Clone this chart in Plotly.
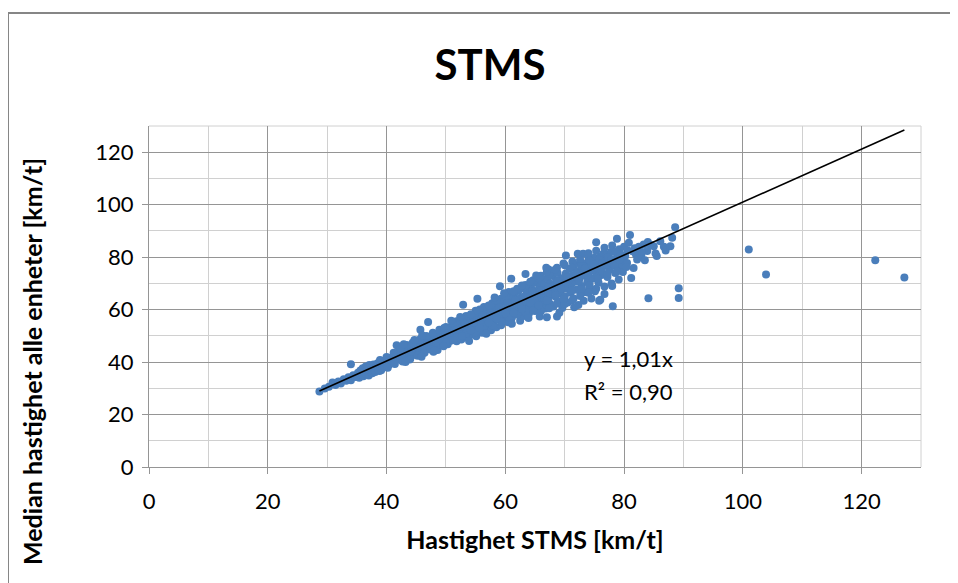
import plotly.graph_objects as go

# ---- data ----
x_low = [28.7, 29.6, 30.3, 30.9, 31.4, 31.9, 32.3, 32.8, 33.2, 33.6, 34.0, 34.4, 34.8, 34.0]
y_low = [28.8, 29.9, 30.6, 32.2, 31.3, 32.6, 31.8, 33.5, 32.9, 34.2, 33.1, 35.0, 34.3, 39.2]

x_b = [35.2, 35.4, 35.6, 35.8, 36.0, 36.1, 36.3, 36.5, 36.6, 36.8, 37.0, 37.1, 37.3, 37.5, 37.6, 37.8, 38.0, 38.1,
       38.3, 38.5, 38.6, 38.8, 39.0, 39.2, 39.3, 39.5, 39.7, 39.9, 40.1, 40.3, 40.4, 40.6, 40.8, 41.0, 41.1, 41.3]
y_b = [35.9, 34.0, 36.8, 35.1, 37.6, 34.6, 36.2, 38.3, 35.3, 37.1, 34.9, 38.9, 36.5, 37.8, 35.7, 39.1, 37.0, 36.2,
       38.4, 39.6, 37.3, 36.6, 38.9, 40.0, 37.8, 39.2, 38.3, 40.6, 39.4, 41.1, 38.9, 40.3, 41.6, 40.0, 42.2, 40.9]

x_c = [41.5, 41.7, 41.8, 42.0, 42.1, 42.3, 42.5, 42.6, 42.8, 43.0, 43.1, 43.3, 43.5, 43.6, 43.8, 44.0, 44.1, 44.3,
       44.5, 44.6, 44.8, 45.0, 45.1, 45.3, 45.5, 45.7, 45.8, 46.0, 46.1, 46.3, 46.5, 46.6, 46.8, 47.0, 47.0, 47.1,
       47.3, 47.5, 47.6, 47.8, 47.9, 48.0, 48.2, 48.3, 48.5, 48.7, 48.8, 49.0, 49.1, 49.3, 49.5, 49.6, 49.8, 50.0,
       50.1, 50.3]
y_c = [43.0, 46.4, 41.6, 42.5, 44.1, 40.9, 43.3, 45.0, 42.0, 44.2, 41.5, 45.5, 43.0, 44.7, 42.3, 41.3, 45.9, 43.7,
       46.3, 42.8, 44.9, 47.0, 43.6, 45.8, 44.2, 52.3, 46.9, 43.2, 47.8, 45.3, 48.2, 44.6, 46.7, 55.3, 49.0, 45.2,
       47.6, 44.8, 49.6, 46.3, 43.9, 48.4, 50.2, 46.8, 48.9, 45.9, 50.6, 47.5, 49.3, 51.2, 47.0, 50.0, 48.3, 51.6,
       49.0, 46.8]

x_d = [50.5, 50.6, 50.8, 51.0, 51.1, 51.3, 51.5, 51.6, 51.8, 52.0, 52.1, 52.3, 52.5, 52.6, 52.8, 52.9, 53.0, 53.1,
       53.3, 53.5, 53.6, 53.8, 54.0, 54.1, 54.3, 54.5, 54.6, 54.8, 55.0, 55.1, 55.3, 55.3, 55.5, 55.6, 55.8, 56.0,
       56.1, 56.3, 56.5, 56.6, 56.8, 57.0, 57.1, 57.3, 57.5, 57.6, 57.8, 58.0, 58.1, 58.3, 58.5, 58.6, 58.8, 59.0,
       59.1, 59.1, 59.3, 59.5, 59.6, 59.7, 59.9]
y_d = [52.5, 50.2, 48.1, 53.4, 51.0, 49.2, 54.0, 51.8, 47.9, 53.0, 55.0, 50.4, 52.2, 48.6, 54.3, 61.9, 56.0, 51.3,
       49.5, 53.6, 55.6, 52.0, 57.0, 50.3, 54.5, 56.3, 51.6, 53.2, 57.6, 49.8, 64.1, 55.3, 52.7, 58.4, 54.3, 56.6,
       51.2, 59.0, 55.0, 57.6, 52.6, 59.8, 54.1, 56.2, 60.6, 52.1, 58.1, 55.2, 61.3, 57.0, 53.3, 59.7, 62.1, 56.2,
       68.9, 60.4, 54.0, 58.6, 62.9, 56.8, 60.0]

x_e = [60.1, 60.2, 60.4, 60.5, 60.7, 60.8, 61.0, 61.0, 61.1, 61.3, 61.5, 61.6, 61.8, 62.0, 62.1, 62.3, 62.5, 62.5,
       62.6, 62.8, 63.0, 63.1, 63.3, 63.4, 63.5, 63.6, 63.8, 64.0, 64.1, 64.2, 64.3, 64.5, 64.6, 64.8, 65.0, 65.1,
       65.3, 65.5, 65.6, 65.8, 65.8, 66.0, 66.1, 66.3, 66.5, 66.6, 66.8, 67.0, 67.0, 67.1, 67.3, 67.3, 67.5, 67.6,
       67.8, 68.0, 68.1, 68.3, 68.5, 68.7, 68.6, 68.8, 69.0, 69.1, 69.3, 69.5, 69.6, 69.8, 70.0]
y_e = [64.0, 57.8, 61.2, 55.2, 63.1, 59.5, 71.8, 65.5, 56.8, 62.4, 60.3, 66.4, 58.1, 63.8, 61.0, 67.3, 55.8, 59.4,
       64.6, 62.0, 68.2, 57.6, 65.0, 73.6, 60.8, 66.9, 63.1, 58.6, 69.0, 60.0, 64.2, 61.6, 67.6, 65.3, 59.5, 70.2,
       62.8, 66.4, 64.0, 57.4, 68.6, 61.3, 71.0, 65.6, 63.0, 69.4, 60.4, 57.1, 67.1, 72.0, 75.3, 64.4, 62.2, 69.9,
       66.0, 72.8, 61.2, 67.8, 64.9, 57.4, 71.0, 74.0, 63.0, 68.8, 66.2, 72.0, 60.6, 70.0, 65.0]

x_f = [70.2, 70.2, 70.3, 70.5, 70.6, 70.8, 71.0, 71.1, 71.3, 71.5, 71.6, 71.8, 72.0, 72.2, 72.1, 72.3, 72.5, 72.6,
       72.8, 73.0, 73.1, 73.2, 73.3, 73.5, 73.6, 73.8, 74.0, 74.1, 74.3, 74.5, 74.5, 74.7, 75.0, 75.1, 75.3, 75.3,
       75.5, 75.8, 75.7, 76.0, 76.0, 76.2, 76.5, 76.4, 76.7, 77.0, 77.1, 77.2, 77.5, 77.8, 77.9, 78.1, 78.2, 78.5,
       78.8, 78.8, 79.1, 79.2, 79.5, 79.8, 80.0]
y_f = [80.6, 73.8, 68.0, 62.7, 71.3, 75.6, 66.4, 69.6, 73.0, 64.2, 77.0, 70.6, 67.6, 81.3, 74.6, 61.8, 72.0, 78.4,
       69.0, 75.8, 81.3, 63.4, 66.6, 72.8, 77.5, 70.4, 79.2, 68.2, 74.6, 64.2, 76.6, 71.8, 79.8, 67.0, 85.7, 74.0,
       77.8, 63.4, 70.2, 63.8, 80.2, 73.2, 81.3, 76.4, 68.8, 78.6, 81.0, 72.4, 75.2, 82.0, 70.0, 61.3, 77.4, 74.0,
       87.0, 80.0, 71.5, 83.0, 76.6, 79.2, 84.0]

x_g = [80.2, 80.5, 80.8, 81.0, 81.2, 81.5, 81.6, 82.0, 82.2, 82.5, 82.9, 83.3, 83.5, 83.9, 84.1, 84.5, 85.0, 85.3,
       85.5, 86.1, 86.7, 87.0, 87.8, 88.1, 88.6, 89.2, 89.2,
       80.6, 81.8, 83.0, 84.0, 79.8, 80.4]
y_g = [80.4, 77.8, 85.5, 88.4, 72.1, 82.2, 75.9, 81.0, 79.1, 84.0, 80.6, 84.8, 78.8, 82.3, 64.3, 84.6, 84.2, 81.4,
       80.4, 86.1, 84.0, 82.5, 84.2, 87.4, 91.4, 68.1, 64.4,
       82.6, 83.4, 82.0, 85.8, 74.3, 76.2]

x_inner = [44.2, 45.4, 46.2, 46.9, 47.7, 48.4, 49.2, 49.9, 50.7, 51.4, 52.2, 52.9, 53.7, 54.4, 55.2, 55.9, 56.7,
           57.4, 58.2, 58.9, 59.7, 60.4, 61.2, 61.9, 62.7, 63.4, 64.2, 64.9, 65.7, 66.4, 67.2, 67.9, 68.7, 69.4,
           70.2, 70.9, 71.7, 72.4, 73.2, 73.9, 74.7, 75.4, 76.2, 76.9, 77.7, 78.4, 79.2,
           50.0, 51.8, 53.4, 55.0, 56.4, 57.8, 59.3, 60.6, 62.0, 63.4, 64.7, 66.0, 67.4, 68.7, 70.0, 71.3, 72.6,
           74.0, 75.3, 76.7, 78.0,
           50.0, 51.8, 53.4, 55.0, 56.4, 57.8, 59.3, 60.6, 62.0, 63.4, 64.7, 66.0, 67.4, 68.7, 70.0, 71.3, 72.6,
           74.0, 75.3, 76.7, 78.0]
y_inner = [44.0, 45.6, 46.0, 47.2, 47.9, 48.0, 48.6, 50.3, 50.9, 52.1, 51.7, 53.3, 54.0, 54.9, 56.0, 55.4, 56.9,
           57.6, 58.9, 58.0, 59.6, 60.0, 61.9, 62.6, 61.4, 63.7, 65.0, 63.6, 66.2, 67.4, 66.6, 68.7, 69.3, 68.0,
           70.4, 71.9, 72.6, 70.9, 74.1, 73.2, 75.1, 76.1, 75.0, 77.0, 78.1, 76.8, 79.0,
           53.4, 55.6, 57.6, 59.6, 61.0, 62.4, 64.1, 66.7, 68.0, 69.4, 71.2, 72.9, 73.6, 76.0, 76.9, 78.3, 79.0,
           81.5, 82.4, 83.6, 84.4,
           47.4, 49.3, 50.9, 51.4, 53.4, 54.0, 55.4, 57.1, 58.2, 59.0, 59.8, 59.4, 60.5, 62.3, 62.1, 63.6, 65.2,
           66.4, 68.0, 66.0, 69.0]

x_fill = [38.9, 40.0, 41.2, 42.4, 43.4, 44.4, 45.6, 46.7, 47.8, 48.9, 49.7,
          39.1, 40.2, 41.4, 42.7, 43.9, 45.2, 46.4, 47.4, 48.6, 49.6,
          51.2, 52.7, 54.2, 55.7, 57.2, 58.6, 60.0, 61.4, 62.8, 64.2, 65.6, 67.0, 68.4, 69.8, 71.2, 72.8, 74.2,
          75.8, 77.3, 78.6,
          51.2, 52.7, 54.2, 55.7, 57.2, 58.6, 60.0, 61.4, 62.8, 64.2, 65.6, 67.0, 68.4, 69.8, 71.2, 72.8, 74.2,
          75.6, 77.2, 78.8,
          50.4, 51.9, 53.2, 54.7, 56.2, 57.6, 59.0, 60.3, 61.7, 63.1, 64.5, 65.9, 67.3, 68.8, 70.4, 71.9, 73.4,
          74.9, 76.3, 77.9, 79.4,
          42.9, 44.7, 46.0, 43.2, 45.9, 48.1, 50.9, 52.4, 53.9, 56.8, 58.2, 59.8, 61.1, 63.9, 65.2, 66.9, 69.1,
          71.6]
y_fill = [40.8, 41.9, 43.6, 45.2, 46.5, 47.4, 48.6, 49.9, 51.2, 52.3, 53.0,
          36.9, 37.8, 39.3, 40.2, 41.0, 42.4, 43.6, 44.9, 44.6, 46.0,
          54.8, 56.4, 58.2, 60.0, 61.6, 63.4, 65.1, 67.0, 69.2, 70.6, 72.1, 74.4, 75.2, 77.6, 76.0, 76.6, 78.7,
          79.0, 80.1, 82.2,
          48.4, 49.9, 52.1, 53.0, 55.1, 56.5, 58.6, 58.8, 60.3, 62.6, 61.7, 63.5, 65.6, 64.0, 67.3, 67.9, 69.4,
          71.8, 73.6, 74.5,
          51.0, 52.6, 54.6, 55.1, 57.8, 58.7, 60.8, 62.5, 63.6, 64.8, 66.9, 67.2, 68.6, 70.8, 72.2, 73.9, 75.8,
          77.2, 77.7, 79.2, 81.2,
          46.8, 48.4, 50.2, 40.0, 42.0, 44.4, 55.8, 57.2, 48.0, 50.8, 64.6, 66.2, 54.6, 56.8, 73.0, 76.0, 58.8,
          60.9]

x_far = [101.0, 103.9, 122.3, 127.2]
y_far = [82.9, 73.4, 78.8, 72.2]

trend_slope = 1.01
trend_text = ["y = 1,01x", "R² = 0,90"]

title_text = "STMS"
x_title = "Hastighet STMS [km/t]"
y_title = "Median hastighet alle enheter [km/t]"
x_ticks = [0, 20, 40, 60, 80, 100, 120]
y_ticks = [0, 20, 40, 60, 80, 100, 120]

# ---- assemble ----
xs = x_low + x_b + x_c + x_d + x_e + x_f + x_g + x_inner + x_fill + x_far
ys = y_low + y_b + y_c + y_d + y_e + y_f + y_g + y_inner + y_fill + y_far

FONT = "Lato"
BLUE = "#4A7EBB"
MAJ = "#959595"
MIN = "#D0D0D0"

fig = go.Figure()
fig.add_trace(go.Scatter(
    x=xs, y=ys, mode="markers",
    marker=dict(color=BLUE, size=8, line=dict(width=0)),
    showlegend=False, hoverinfo="x+y"))

x0t, x1t = min(xs), max(xs)
fig.add_trace(go.Scatter(
    x=[x0t, x1t], y=[trend_slope * x0t, trend_slope * x1t], mode="lines",
    line=dict(color="black", width=1.6), showlegend=False, hoverinfo="skip"))

axis_common = dict(
    showgrid=True, gridcolor=MAJ, gridwidth=1,
    minor=dict(dtick=10, showgrid=True, gridcolor=MIN, gridwidth=1, ticks=""),
    zeroline=False, showline=True, linecolor=MAJ, linewidth=1,
    ticks="outside", ticklen=6, tickcolor=MAJ, tickwidth=1,
    tickfont=dict(family=FONT, size=22, color="black"),
    fixedrange=True,
)

fig.update_xaxes(range=[0, 130], tickvals=x_ticks, ticklabelstandoff=9,
                 title=dict(text=x_title, font=dict(family=FONT, size=25, color="black",
                                                    weight="bold"), standoff=18),
                 **axis_common)
fig.update_yaxes(range=[0, 130], tickvals=y_ticks, ticklabelstandoff=4, **axis_common)

# y-axis title (placed as in the reference: a little below the plot centre)
fig.add_annotation(text=y_title, textangle=-90, xref="paper", yref="paper",
                   x=(24 - 141) / 772, y=(459 - 354) / 341, xanchor="center", yanchor="middle",
                   showarrow=False, font=dict(family=FONT, size=25, color="black", weight="bold"))

# top and right edge gridlines (minor lines at 130)
fig.add_shape(type="line", xref="paper", yref="paper", x0=0, x1=1, y0=1, y1=1,
              line=dict(color=MIN, width=1), layer="below")
fig.add_shape(type="line", xref="paper", yref="paper", x0=1, x1=1, y0=0, y1=1,
              line=dict(color=MIN, width=1), layer="below")

# outer chart border (page body has an 8px margin; figure is offset accordingly)
fig.add_shape(type="rect", xref="paper", yref="paper",
              x0=(0 - 141) / 772, x1=(970 - 141) / 772,
              y0=(459 - 600) / 341, y1=(459 - 5) / 341,
              line=dict(color="#868686", width=2), fillcolor="rgba(0,0,0,0)", layer="below")

fig.add_annotation(x=72.96, y=41.5, xref="x", yref="y", text=trend_text[0], showarrow=False,
                   xanchor="left", yanchor="middle", font=dict(family=FONT, size=22, color="black"))
fig.add_annotation(x=72.96, y=28.6, xref="x", yref="y", text=trend_text[1], showarrow=False,
                   xanchor="left", yanchor="middle", font=dict(family=FONT, size=22, color="black"))

fig.update_layout(
    width=950, height=575,
    margin=dict(l=141, r=37, t=118, b=116),
    paper_bgcolor="white", plot_bgcolor="white",
    title=dict(text=title_text, x=482 / 950, xanchor="center", y=1 - 57 / 575, yanchor="middle",
               font=dict(family=FONT, size=42, color="black", weight="bold")),
    showlegend=False,
)

fig.write_html("out.html")
